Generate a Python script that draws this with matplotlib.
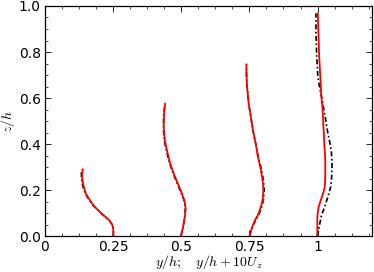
import numpy as np
import matplotlib
matplotlib.use('Agg')
import matplotlib.pyplot as plt
from matplotlib.ticker import AutoMinorLocator, FixedLocator

# profile stations (y/h) and the U_z profiles
stations = [0.25, 0.5, 0.75, 1.0]

z1 = [0.0, 0.02, 0.04, 0.055, 0.07, 0.085, 0.099, 0.113, 0.127, 0.142, 0.157, 0.171,
      0.186, 0.2, 0.214, 0.229, 0.243, 0.258, 0.273, 0.29]
u1_red = [0.0001, 0.0001, 0.0, -0.0006, -0.0015, -0.0029, -0.0043, -0.0055, -0.0067,
          -0.0077, -0.0085, -0.0093, -0.0100, -0.0104, -0.0107, -0.0110, -0.0112,
          -0.0113, -0.0113, -0.0111]
u1_blk = [0.0001, 0.0001, 0.0, -0.0006, -0.0015, -0.0030, -0.0044, -0.0056, -0.0068,
          -0.0079, -0.0087, -0.0095, -0.0102, -0.0107, -0.0110, -0.0113, -0.0115,
          -0.0116, -0.0116, -0.0115]

z2 = [0.0, 0.03, 0.062, 0.09, 0.12, 0.149, 0.17, 0.193, 0.215, 0.236, 0.258, 0.28,
      0.3, 0.323, 0.35, 0.381, 0.41, 0.439, 0.47, 0.497, 0.53, 0.575]
u2_red = [-0.0001, 0.0005, 0.0010, 0.0014, 0.0016, 0.0013, 0.0007, 0.0, -0.0008,
          -0.0015, -0.0023, -0.0030, -0.0036, -0.0042, -0.0048, -0.0054, -0.0059,
          -0.0062, -0.0064, -0.0064, -0.0063, -0.0059]
u2_blk = [-0.0001, 0.0005, 0.0010, 0.0014, 0.0015, 0.0012, 0.0006, -0.0002, -0.0010,
          -0.0017, -0.0025, -0.0032, -0.0038, -0.0044, -0.0050, -0.0056, -0.0061,
          -0.0064, -0.0065, -0.0065, -0.0064, -0.0060]

z3 = [0.0, 0.025, 0.048, 0.07, 0.091, 0.113, 0.135, 0.157, 0.178, 0.2, 0.222, 0.243,
      0.265, 0.287, 0.309, 0.33, 0.352, 0.39, 0.425, 0.46, 0.497, 0.535, 0.57, 0.605,
      0.642, 0.68, 0.714, 0.746]
u3_red = [0.0001, 0.0006, 0.0013, 0.0021, 0.0031, 0.0038, 0.0044, 0.0048, 0.0050,
          0.0051, 0.0050, 0.0048, 0.0045, 0.0042, 0.0038, 0.0034, 0.0030, 0.0025,
          0.0019, 0.0013, 0.0008, 0.0003, -0.0002, -0.0005, -0.0008, -0.0010,
          -0.0011, -0.0011]
u3_blk = [0.0001, 0.0006, 0.0014, 0.0023, 0.0033, 0.0041, 0.0047, 0.0051, 0.0053,
          0.0054, 0.0053, 0.0051, 0.0048, 0.0044, 0.0040, 0.0035, 0.0031, 0.0025,
          0.0019, 0.0013, 0.0008, 0.0003, -0.0002, -0.0005, -0.0008, -0.0010,
          -0.0011, -0.0011]

z4 = [0.0, 0.04, 0.084, 0.105, 0.127, 0.15, 0.171, 0.192, 0.214, 0.245, 0.273, 0.3,
      0.33, 0.36, 0.388, 0.417, 0.446, 0.48, 0.519, 0.555, 0.591, 0.62, 0.649, 0.693,
      0.736, 0.775, 0.809, 0.852, 0.881, 0.925, 0.968]
u4_red = [-0.0001, -0.0001, -0.0001, 0.0001, 0.0004, 0.0010, 0.0016, 0.0022, 0.0026,
          0.0028, 0.0028, 0.0028, 0.0028, 0.0027, 0.0025, 0.0024, 0.0023, 0.0021,
          0.0020, 0.0018, 0.0015, 0.0013, 0.0012, 0.0010, 0.0008, 0.0006, 0.0005,
          0.0004, 0.0003, 0.0002, 0.0001]
u4_blk = [-0.0001, 0.0006, 0.0013, 0.0019, 0.0026, 0.0032, 0.0038, 0.0043, 0.0048,
          0.0051, 0.0052, 0.0053, 0.0052, 0.0051, 0.0048, 0.0043, 0.0038, 0.0033,
          0.0028, 0.0022, 0.0017, 0.0012, 0.0007, 0.0001, -0.0001, -0.0003, -0.0004,
          -0.0005, -0.0006, -0.0006, -0.0006]

zs = [z1, z2, z3, z4]
u_red = [u1_red, u2_red, u3_red, u4_red]
u_blk = [u1_blk, u2_blk, u3_blk, u4_blk]

xticks = [0, 0.25, 0.5, 0.75, 1.0]
xticklabels = ['0', '0.25', '0.5', '0.75', '1']

plt.rcParams['mathtext.fontset'] = 'cm'
plt.rcParams['xtick.direction'] = 'in'
plt.rcParams['ytick.direction'] = 'in'
plt.rcParams['xtick.top'] = True
plt.rcParams['ytick.right'] = True

fig = plt.figure(figsize=(3.74, 2.72), dpi=100)
ax = fig.add_axes([0.12, 0.132, 0.875, 0.846])

for base, z, ur, ub in zip(stations, zs, u_red, u_blk):
    ax.plot(base + 10 * np.array(ub), z, 'k-.', lw=1.2, dashes=(3, 1.5, 1, 1.5))
    ax.plot(base + 10 * np.array(ur), z, 'r-', lw=1.3)

ax.set_xlim(0, 1.2)
ax.set_ylim(0, 1)
ax.xaxis.set_major_locator(FixedLocator(xticks))
ax.set_xticklabels(xticklabels)
ax.xaxis.set_minor_locator(AutoMinorLocator(4))
ax.yaxis.set_minor_locator(AutoMinorLocator(4))
ax.yaxis.set_major_formatter(plt.FormatStrFormatter('%.1f'))
ax.tick_params(which='major', length=4, width=0.6, labelsize=10, pad=3)
ax.tick_params(which='minor', length=2, width=0.5)
for s in ax.spines.values():
    s.set_linewidth(0.9)

ax.set_xlabel(r'$y/h;\quad y/h+10U_z$', fontsize=10)
ax.set_ylabel(r'$z/h$', fontsize=10)
ax.xaxis.set_label_coords(0.5, -0.075)
ax.yaxis.set_label_coords(-0.085, 0.5)

fig.savefig('out.png', dpi=100)
